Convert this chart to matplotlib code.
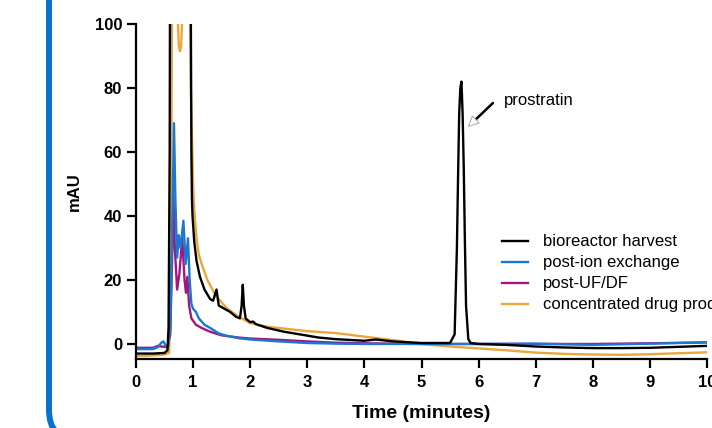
import matplotlib
matplotlib.use("Agg")
import matplotlib.pyplot as plt
from matplotlib.patches import FancyBboxPatch

plt.rcParams["font.family"] = ["Liberation Sans", "DejaVu Sans"]

# Chromatogram traces (time in minutes, signal in mAU)
harvest_t = [0.0, 0.3, 0.5, 0.55, 0.57, 0.59, 0.60, 0.95, 0.97, 0.98, 0.99, 1.02, 1.06, 1.12,
             1.2, 1.3, 1.35, 1.41, 1.45, 1.5, 1.55, 1.65, 1.75, 1.82, 1.85, 1.87, 1.89, 1.92,
             2.0, 2.05, 2.1, 2.3, 2.6, 3.0, 3.2, 3.5, 4.0, 4.2, 4.5, 5.0, 5.5, 5.58, 5.62,
             5.64, 5.66, 5.68, 5.70, 5.72, 5.74, 5.76, 5.78, 5.82, 5.86, 6.0, 6.5, 7.0, 7.5,
             8.0, 8.5, 9.0, 9.5, 10.0]
harvest_y = [-3.0, -3.0, -2.8, -2.0, 5, 60, 150, 150, 60, 45, 40, 32, 26, 21,
             17, 14, 13.5, 17, 12, 11.5, 11, 10, 8.5, 8, 12, 18.5, 12, 8,
             6.8, 7.0, 6.2, 5.0, 3.8, 2.6, 2.0, 1.5, 1.0, 1.4, 0.8, 0.3, 0.3, 3, 30,
             52, 72, 80, 82, 72, 55, 32, 12, 1.5, 0.3, 0.0, -0.3, -0.8, -1.1,
             -1.3, -1.3, -1.2, -0.9, -0.6]

ion_t = [0.0, 0.3, 0.38, 0.45, 0.48, 0.52, 0.56, 0.6, 0.63, 0.665, 0.69, 0.72, 0.75, 0.78,
         0.83, 0.87, 0.91, 0.94, 0.97, 1.0, 1.05, 1.1, 1.2, 1.3, 1.45, 1.6, 1.8, 2.0, 2.5,
         3.0, 3.5, 4.0, 5.0, 6.0, 7.0, 8.0, 9.0, 10.0]
ion_y = [-1.6, -1.6, -1.0, 0.5, 0.8, -0.5, -1.0, 5, 30, 69, 45, 27, 34, 30,
         38.5, 25, 33, 20, 12.5, 11, 10, 8, 6, 5, 3.3, 2.5, 1.8, 1.4, 0.8,
         0.3, 0.1, 0.0, 0.0, 0.0, 0.1, -0.3, 0.1, 0.5]

ufdf_t = [0.0, 0.3, 0.38, 0.45, 0.55, 0.6, 0.63, 0.655, 0.68, 0.72, 0.76, 0.81, 0.85, 0.875,
          0.9, 0.93, 0.97, 1.05, 1.15, 1.3, 1.5, 1.8, 2.0, 2.5, 3.0, 3.5, 4.0, 5.0, 6.0,
          7.0, 8.0, 9.0, 10.0]
ufdf_y = [-1.2, -1.2, -0.6, -0.8, -1.0, 3, 25, 46, 30, 17, 22, 33, 20, 16,
          21, 12, 8, 6, 5, 3.8, 2.7, 2.0, 1.7, 1.3, 0.8, 0.4, 0.2, 0.0, 0.0,
          0.0, 0.0, 0.2, 0.5]

drug_t = [0.0, 0.3, 0.5, 0.58, 0.61, 0.64, 0.72, 0.735, 0.75, 0.77, 0.79, 0.805, 0.82, 0.93,
          0.96, 1.0, 1.02, 1.06, 1.1, 1.15, 1.25, 1.4, 1.6, 1.8, 2.0, 2.3, 2.6, 3.0, 3.5,
          4.0, 4.5, 5.0, 5.5, 6.0, 6.5, 7.0, 7.5, 8.0, 8.5, 9.0, 9.5, 10.0]
drug_y = [-3.8, -3.6, -3.3, -2.8, 20, 150, 150, 100, 93, 91.5, 93, 100, 150, 150,
          80, 50, 42, 33, 28, 25, 20, 15, 11, 8.5, 6.5, 5.4, 4.8, 4.0, 3.4,
          2.3, 1.2, 0.0, -0.8, -1.4, -2.0, -2.7, -3.1, -3.3, -3.4, -3.2, -2.9, -2.6]

labels = ["bioreactor harvest", "post-ion exchange", "post-UF/DF", "concentrated drug product"]
colors = ["#000000", "#1a77d2", "#a2167f", "#eca63b"]

fig = plt.figure(figsize=(7.12, 4.28), dpi=100)
ax = fig.add_axes([136 / 712, 69 / 428, 571 / 712, 335 / 428])

# draw order: orange at the back, black on top
l4, = ax.plot(drug_t, drug_y, color=colors[3], lw=1.7)
l3, = ax.plot(ufdf_t, ufdf_y, color=colors[2], lw=1.7)
l2, = ax.plot(ion_t, ion_y, color=colors[1], lw=1.7)
l1, = ax.plot(harvest_t, harvest_y, color=colors[0], lw=1.7)

ax.set_xlim(0, 10)
ax.set_ylim(-4.7, 100)
ax.set_xticks(range(0, 11))
ax.set_yticks(range(0, 101, 20))
for s in ["top", "right"]:
    ax.spines[s].set_visible(False)
for s in ["left", "bottom"]:
    ax.spines[s].set_linewidth(1.6)
ax.tick_params(width=1.6, length=6.5, labelsize=12)
ax.tick_params(axis="x", pad=5)
for t in ax.get_xticklabels() + ax.get_yticklabels():
    t.set_fontweight("bold")

ax.set_xlabel("Time (minutes)", fontsize=14, fontweight="bold", labelpad=11)
ax.set_ylabel("mAU", fontsize=12, fontweight="bold", labelpad=9)

leg = ax.legend([l1, l2, l3, l4], labels, loc="upper left", bbox_to_anchor=(0.641, 0.372),
                frameon=False, fontsize=12, handlelength=1.56, handletextpad=0.9,
                labelspacing=0.36, borderpad=0, borderaxespad=0)

# prostratin callout: black shaft with an open grey head
ax.annotate("", xy=(5.94, 70), xytext=(6.25, 75.3),
            arrowprops=dict(arrowstyle="-", color="black", lw=1.8, shrinkA=0, shrinkB=0))
ax.annotate("", xy=(5.81, 67.8), xytext=(5.94, 70),
            arrowprops=dict(arrowstyle="-|>,head_length=0.7,head_width=0.35", fc="white",
                            ec="#b0b0b0", lw=0.8, shrinkA=0, shrinkB=0))
ax.text(6.44, 76, "prostratin", fontsize=12, va="center", ha="left")

# blue card border on the left edge
card = FancyBboxPatch((0.49, -0.12), 10, 6, boxstyle="round,pad=0,rounding_size=0.3",
                      transform=fig.dpi_scale_trans, fc="none", ec="#0a72cc", lw=4.3,
                      clip_on=False)
fig.add_artist(card)

fig.savefig("out.png", dpi=100)
